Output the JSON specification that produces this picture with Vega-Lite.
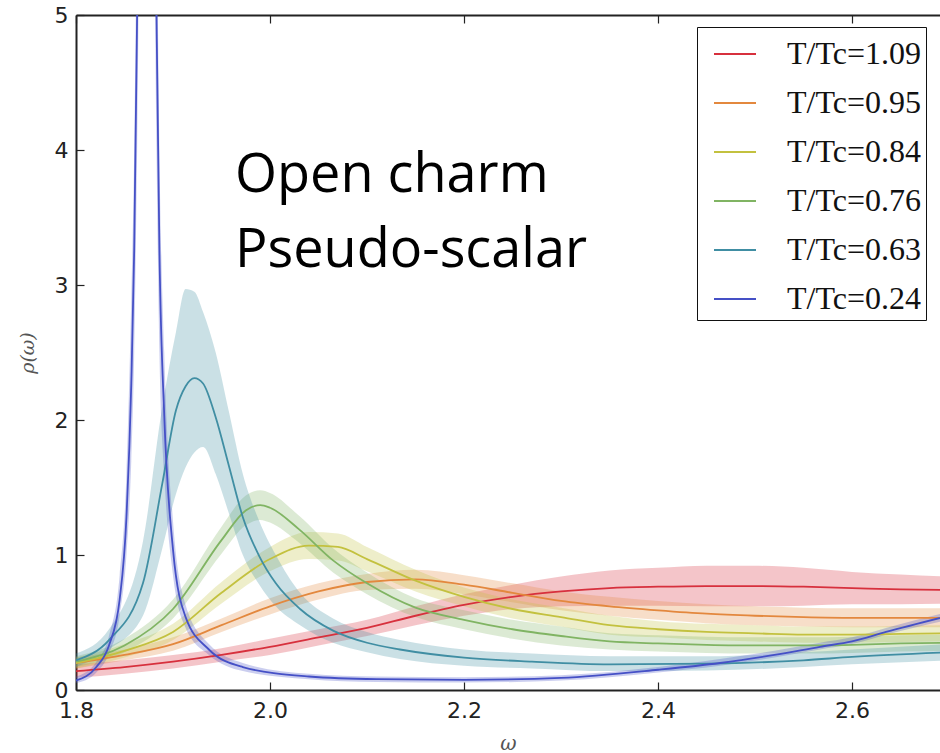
{
  "$schema": "https://vega.github.io/schema/vega-lite/v6.json",
  "width": 864,
  "height": 675,
  "autosize": {"type": "none"},
  "padding": {"left": 76, "top": 15, "right": 0, "bottom": 63},
  "background": "white",
  "config": {"view": {"stroke": null}, "font": "DejaVu Sans"},
  "datasets": {
    "curves": [
      {"s": "T/Tc=1.09", "w": 1.80, "r": 0.14, "lo": 0.09, "hi": 0.19},
      {"s": "T/Tc=1.09", "w": 1.85, "r": 0.17, "lo": 0.12, "hi": 0.22},
      {"s": "T/Tc=1.09", "w": 1.90, "r": 0.21, "lo": 0.16, "hi": 0.26},
      {"s": "T/Tc=1.09", "w": 1.95, "r": 0.26, "lo": 0.21, "hi": 0.31},
      {"s": "T/Tc=1.09", "w": 2.00, "r": 0.32, "lo": 0.26, "hi": 0.38},
      {"s": "T/Tc=1.09", "w": 2.05, "r": 0.39, "lo": 0.33, "hi": 0.45},
      {"s": "T/Tc=1.09", "w": 2.10, "r": 0.46, "lo": 0.40, "hi": 0.52},
      {"s": "T/Tc=1.09", "w": 2.15, "r": 0.55, "lo": 0.48, "hi": 0.62},
      {"s": "T/Tc=1.09", "w": 2.20, "r": 0.63, "lo": 0.55, "hi": 0.71},
      {"s": "T/Tc=1.09", "w": 2.25, "r": 0.69, "lo": 0.60, "hi": 0.78},
      {"s": "T/Tc=1.09", "w": 2.30, "r": 0.73, "lo": 0.62, "hi": 0.84},
      {"s": "T/Tc=1.09", "w": 2.35, "r": 0.755, "lo": 0.625, "hi": 0.885},
      {"s": "T/Tc=1.09", "w": 2.40, "r": 0.765, "lo": 0.625, "hi": 0.905},
      {"s": "T/Tc=1.09", "w": 2.45, "r": 0.77, "lo": 0.62, "hi": 0.92},
      {"s": "T/Tc=1.09", "w": 2.50, "r": 0.77, "lo": 0.62, "hi": 0.92},
      {"s": "T/Tc=1.09", "w": 2.55, "r": 0.765, "lo": 0.625, "hi": 0.905},
      {"s": "T/Tc=1.09", "w": 2.60, "r": 0.755, "lo": 0.635, "hi": 0.875},
      {"s": "T/Tc=1.09", "w": 2.65, "r": 0.745, "lo": 0.635, "hi": 0.855},
      {"s": "T/Tc=1.09", "w": 2.70, "r": 0.74, "lo": 0.64, "hi": 0.84},

      {"s": "T/Tc=0.95", "w": 1.80, "r": 0.20, "lo": 0.16, "hi": 0.24},
      {"s": "T/Tc=0.95", "w": 1.85, "r": 0.26, "lo": 0.22, "hi": 0.30},
      {"s": "T/Tc=0.95", "w": 1.90, "r": 0.34, "lo": 0.29, "hi": 0.39},
      {"s": "T/Tc=0.95", "w": 1.95, "r": 0.48, "lo": 0.43, "hi": 0.53},
      {"s": "T/Tc=0.95", "w": 2.00, "r": 0.62, "lo": 0.56, "hi": 0.68},
      {"s": "T/Tc=0.95", "w": 2.05, "r": 0.73, "lo": 0.67, "hi": 0.79},
      {"s": "T/Tc=0.95", "w": 2.10, "r": 0.80, "lo": 0.74, "hi": 0.86},
      {"s": "T/Tc=0.95", "w": 2.15, "r": 0.82, "lo": 0.75, "hi": 0.89},
      {"s": "T/Tc=0.95", "w": 2.20, "r": 0.78, "lo": 0.71, "hi": 0.85},
      {"s": "T/Tc=0.95", "w": 2.25, "r": 0.72, "lo": 0.65, "hi": 0.79},
      {"s": "T/Tc=0.95", "w": 2.30, "r": 0.66, "lo": 0.59, "hi": 0.73},
      {"s": "T/Tc=0.95", "w": 2.35, "r": 0.62, "lo": 0.55, "hi": 0.69},
      {"s": "T/Tc=0.95", "w": 2.40, "r": 0.59, "lo": 0.52, "hi": 0.66},
      {"s": "T/Tc=0.95", "w": 2.45, "r": 0.565, "lo": 0.495, "hi": 0.635},
      {"s": "T/Tc=0.95", "w": 2.50, "r": 0.55, "lo": 0.48, "hi": 0.62},
      {"s": "T/Tc=0.95", "w": 2.55, "r": 0.54, "lo": 0.47, "hi": 0.61},
      {"s": "T/Tc=0.95", "w": 2.60, "r": 0.535, "lo": 0.465, "hi": 0.605},
      {"s": "T/Tc=0.95", "w": 2.65, "r": 0.535, "lo": 0.465, "hi": 0.605},
      {"s": "T/Tc=0.95", "w": 2.70, "r": 0.535, "lo": 0.465, "hi": 0.605},

      {"s": "T/Tc=0.84", "w": 1.80, "r": 0.20, "lo": 0.16, "hi": 0.24},
      {"s": "T/Tc=0.84", "w": 1.85, "r": 0.29, "lo": 0.24, "hi": 0.34},
      {"s": "T/Tc=0.84", "w": 1.90, "r": 0.43, "lo": 0.37, "hi": 0.49},
      {"s": "T/Tc=0.84", "w": 1.95, "r": 0.72, "lo": 0.64, "hi": 0.80},
      {"s": "T/Tc=0.84", "w": 2.00, "r": 0.97, "lo": 0.88, "hi": 1.06},
      {"s": "T/Tc=0.84", "w": 2.04, "r": 1.07, "lo": 0.97, "hi": 1.17},
      {"s": "T/Tc=0.84", "w": 2.07, "r": 1.06, "lo": 0.96, "hi": 1.16},
      {"s": "T/Tc=0.84", "w": 2.10, "r": 0.97, "lo": 0.88, "hi": 1.06},
      {"s": "T/Tc=0.84", "w": 2.15, "r": 0.81, "lo": 0.73, "hi": 0.89},
      {"s": "T/Tc=0.84", "w": 2.20, "r": 0.69, "lo": 0.62, "hi": 0.76},
      {"s": "T/Tc=0.84", "w": 2.25, "r": 0.60, "lo": 0.53, "hi": 0.67},
      {"s": "T/Tc=0.84", "w": 2.30, "r": 0.54, "lo": 0.47, "hi": 0.61},
      {"s": "T/Tc=0.84", "w": 2.35, "r": 0.48, "lo": 0.41, "hi": 0.55},
      {"s": "T/Tc=0.84", "w": 2.40, "r": 0.45, "lo": 0.39, "hi": 0.51},
      {"s": "T/Tc=0.84", "w": 2.45, "r": 0.43, "lo": 0.37, "hi": 0.49},
      {"s": "T/Tc=0.84", "w": 2.50, "r": 0.42, "lo": 0.36, "hi": 0.48},
      {"s": "T/Tc=0.84", "w": 2.55, "r": 0.41, "lo": 0.35, "hi": 0.47},
      {"s": "T/Tc=0.84", "w": 2.60, "r": 0.41, "lo": 0.35, "hi": 0.47},
      {"s": "T/Tc=0.84", "w": 2.65, "r": 0.415, "lo": 0.355, "hi": 0.475},
      {"s": "T/Tc=0.84", "w": 2.70, "r": 0.42, "lo": 0.36, "hi": 0.48},

      {"s": "T/Tc=0.76", "w": 1.80, "r": 0.21, "lo": 0.17, "hi": 0.25},
      {"s": "T/Tc=0.76", "w": 1.85, "r": 0.33, "lo": 0.28, "hi": 0.38},
      {"s": "T/Tc=0.76", "w": 1.90, "r": 0.60, "lo": 0.53, "hi": 0.67},
      {"s": "T/Tc=0.76", "w": 1.95, "r": 1.11, "lo": 1.01, "hi": 1.21},
      {"s": "T/Tc=0.76", "w": 1.975, "r": 1.33, "lo": 1.22, "hi": 1.44},
      {"s": "T/Tc=0.76", "w": 1.99, "r": 1.37, "lo": 1.26, "hi": 1.48},
      {"s": "T/Tc=0.76", "w": 2.00, "r": 1.35, "lo": 1.24, "hi": 1.46},
      {"s": "T/Tc=0.76", "w": 2.03, "r": 1.19, "lo": 1.09, "hi": 1.29},
      {"s": "T/Tc=0.76", "w": 2.065, "r": 0.96, "lo": 0.87, "hi": 1.05},
      {"s": "T/Tc=0.76", "w": 2.10, "r": 0.79, "lo": 0.71, "hi": 0.87},
      {"s": "T/Tc=0.76", "w": 2.15, "r": 0.61, "lo": 0.54, "hi": 0.68},
      {"s": "T/Tc=0.76", "w": 2.20, "r": 0.52, "lo": 0.45, "hi": 0.59},
      {"s": "T/Tc=0.76", "w": 2.25, "r": 0.45, "lo": 0.38, "hi": 0.52},
      {"s": "T/Tc=0.76", "w": 2.30, "r": 0.40, "lo": 0.33, "hi": 0.47},
      {"s": "T/Tc=0.76", "w": 2.35, "r": 0.36, "lo": 0.30, "hi": 0.42},
      {"s": "T/Tc=0.76", "w": 2.40, "r": 0.345, "lo": 0.285, "hi": 0.405},
      {"s": "T/Tc=0.76", "w": 2.45, "r": 0.335, "lo": 0.275, "hi": 0.395},
      {"s": "T/Tc=0.76", "w": 2.50, "r": 0.33, "lo": 0.27, "hi": 0.39},
      {"s": "T/Tc=0.76", "w": 2.55, "r": 0.33, "lo": 0.27, "hi": 0.39},
      {"s": "T/Tc=0.76", "w": 2.60, "r": 0.335, "lo": 0.275, "hi": 0.395},
      {"s": "T/Tc=0.76", "w": 2.65, "r": 0.345, "lo": 0.285, "hi": 0.405},
      {"s": "T/Tc=0.76", "w": 2.70, "r": 0.35, "lo": 0.29, "hi": 0.41},

      {"s": "T/Tc=0.63", "w": 1.80, "r": 0.22, "lo": 0.17, "hi": 0.27},
      {"s": "T/Tc=0.63", "w": 1.834, "r": 0.37, "lo": 0.30, "hi": 0.45},
      {"s": "T/Tc=0.63", "w": 1.869, "r": 0.79, "lo": 0.55, "hi": 1.10},
      {"s": "T/Tc=0.63", "w": 1.889, "r": 1.53, "lo": 1.05, "hi": 2.10},
      {"s": "T/Tc=0.63", "w": 1.903, "r": 2.07, "lo": 1.45, "hi": 2.65},
      {"s": "T/Tc=0.63", "w": 1.913, "r": 2.25, "lo": 1.65, "hi": 2.97},
      {"s": "T/Tc=0.63", "w": 1.922, "r": 2.31, "lo": 1.76, "hi": 2.95},
      {"s": "T/Tc=0.63", "w": 1.931, "r": 2.27, "lo": 1.80, "hi": 2.80},
      {"s": "T/Tc=0.63", "w": 1.944, "r": 2.02, "lo": 1.60, "hi": 2.50},
      {"s": "T/Tc=0.63", "w": 1.958, "r": 1.65, "lo": 1.30, "hi": 2.05},
      {"s": "T/Tc=0.63", "w": 1.972, "r": 1.28, "lo": 1.00, "hi": 1.60},
      {"s": "T/Tc=0.63", "w": 1.989, "r": 0.99, "lo": 0.78, "hi": 1.25},
      {"s": "T/Tc=0.63", "w": 2.006, "r": 0.79, "lo": 0.62, "hi": 1.00},
      {"s": "T/Tc=0.63", "w": 2.031, "r": 0.60, "lo": 0.48, "hi": 0.72},
      {"s": "T/Tc=0.63", "w": 2.065, "r": 0.44, "lo": 0.35, "hi": 0.53},
      {"s": "T/Tc=0.63", "w": 2.10, "r": 0.35, "lo": 0.28, "hi": 0.43},
      {"s": "T/Tc=0.63", "w": 2.134, "r": 0.30, "lo": 0.23, "hi": 0.37},
      {"s": "T/Tc=0.63", "w": 2.20, "r": 0.24, "lo": 0.18, "hi": 0.30},
      {"s": "T/Tc=0.63", "w": 2.27, "r": 0.21, "lo": 0.16, "hi": 0.27},
      {"s": "T/Tc=0.63", "w": 2.35, "r": 0.19, "lo": 0.14, "hi": 0.25},
      {"s": "T/Tc=0.63", "w": 2.45, "r": 0.195, "lo": 0.145, "hi": 0.25},
      {"s": "T/Tc=0.63", "w": 2.55, "r": 0.22, "lo": 0.17, "hi": 0.28},
      {"s": "T/Tc=0.63", "w": 2.60, "r": 0.245, "lo": 0.19, "hi": 0.30},
      {"s": "T/Tc=0.63", "w": 2.70, "r": 0.28, "lo": 0.22, "hi": 0.34},

      {"s": "T/Tc=0.24", "w": 1.80, "r": 0.07, "lo": 0.05, "hi": 0.10},
      {"s": "T/Tc=0.24", "w": 1.821, "r": 0.17, "lo": 0.13, "hi": 0.21},
      {"s": "T/Tc=0.24", "w": 1.834, "r": 0.33, "lo": 0.27, "hi": 0.40},
      {"s": "T/Tc=0.24", "w": 1.845, "r": 0.67, "lo": 0.55, "hi": 0.85},
      {"s": "T/Tc=0.24", "w": 1.852, "r": 1.28, "lo": 1.00, "hi": 1.60},
      {"s": "T/Tc=0.24", "w": 1.857, "r": 2.27, "lo": 1.70, "hi": 2.90},
      {"s": "T/Tc=0.24", "w": 1.860, "r": 3.26, "lo": 2.50, "hi": 4.00},
      {"s": "T/Tc=0.24", "w": 1.863, "r": 5.0, "lo": 4.0, "hi": 6.0},
      {"s": "T/Tc=0.24", "w": 1.873, "r": 13.0, "lo": 12.0, "hi": 14.0},
      {"s": "T/Tc=0.24", "w": 1.883, "r": 5.0, "lo": 4.0, "hi": 6.0},
      {"s": "T/Tc=0.24", "w": 1.886, "r": 3.26, "lo": 2.50, "hi": 4.00},
      {"s": "T/Tc=0.24", "w": 1.891, "r": 2.03, "lo": 1.60, "hi": 2.50},
      {"s": "T/Tc=0.24", "w": 1.900, "r": 1.04, "lo": 0.85, "hi": 1.25},
      {"s": "T/Tc=0.24", "w": 1.913, "r": 0.54, "lo": 0.46, "hi": 0.63},
      {"s": "T/Tc=0.24", "w": 1.937, "r": 0.30, "lo": 0.26, "hi": 0.34},
      {"s": "T/Tc=0.24", "w": 1.972, "r": 0.17, "lo": 0.14, "hi": 0.20},
      {"s": "T/Tc=0.24", "w": 2.04, "r": 0.10, "lo": 0.08, "hi": 0.12},
      {"s": "T/Tc=0.24", "w": 2.11, "r": 0.08, "lo": 0.06, "hi": 0.10},
      {"s": "T/Tc=0.24", "w": 2.20, "r": 0.075, "lo": 0.055, "hi": 0.095},
      {"s": "T/Tc=0.24", "w": 2.30, "r": 0.09, "lo": 0.07, "hi": 0.11},
      {"s": "T/Tc=0.24", "w": 2.40, "r": 0.15, "lo": 0.13, "hi": 0.17},
      {"s": "T/Tc=0.24", "w": 2.464, "r": 0.20, "lo": 0.18, "hi": 0.23},
      {"s": "T/Tc=0.24", "w": 2.52, "r": 0.26, "lo": 0.24, "hi": 0.29},
      {"s": "T/Tc=0.24", "w": 2.567, "r": 0.32, "lo": 0.30, "hi": 0.35},
      {"s": "T/Tc=0.24", "w": 2.60, "r": 0.36, "lo": 0.34, "hi": 0.39},
      {"s": "T/Tc=0.24", "w": 2.635, "r": 0.43, "lo": 0.41, "hi": 0.46},
      {"s": "T/Tc=0.24", "w": 2.70, "r": 0.55, "lo": 0.52, "hi": 0.58}
    ],
    "notes": [
      {"w": 1.964, "r": 3.69, "t": "Open charm"},
      {"w": 1.964, "r": 3.13, "t": "Pseudo-scalar"}
    ]
  },
  "layer": [
    {
      "data": {"name": "curves"},
      "mark": {"type": "area", "interpolate": "monotone", "clip": true, "opacity": 0.28},
      "encoding": {
        "x": {"field": "w", "type": "quantitative",
          "scale": {"domain": [1.8, 2.6907], "nice": false, "zero": false},
          "axis": {"orient": "bottom", "values": [1.8, 2.0, 2.2, 2.4, 2.6], "format": ".1f",
            "grid": false, "tickSize": -8, "tickColor": "#222", "tickWidth": 1.2,
            "domainColor": "#222", "domainWidth": 2, "labelPadding": 18,
            "labelFont": "DejaVu Sans", "labelFontSize": 22, "labelColor": "#222",
            "labelFlush": false, "labelOverlap": false,
            "title": "ω", "titleFont": "DejaVu Serif", "titleFontStyle": "italic",
            "titleFontWeight": "normal", "titleFontSize": 20, "titleColor": "#555", "titlePadding": 12}},
        "y": {"field": "lo", "type": "quantitative",
          "scale": {"domain": [0, 5], "nice": false},
          "axis": {"values": [0, 1, 2, 3, 4, 5], "format": "d", "grid": false,
            "tickSize": -8, "tickColor": "#222", "tickWidth": 1.2,
            "domainColor": "#222", "domainWidth": 2, "labelPadding": 16,
            "labelFont": "DejaVu Sans", "labelFontSize": 22, "labelColor": "#222",
            "labelFlush": false, "labelOverlap": false,
            "title": "ρ(ω)", "titleFont": "DejaVu Serif", "titleFontStyle": "italic",
            "titleFontWeight": "normal", "titleFontSize": 19, "titleColor": "#555", "titlePadding": 17}},
        "y2": {"field": "hi"},
        "color": {"field": "s", "type": "nominal",
          "scale": {"domain": ["T/Tc=1.09", "T/Tc=0.95", "T/Tc=0.84", "T/Tc=0.76", "T/Tc=0.63", "T/Tc=0.24"],
            "range": ["#d7303d", "#e3883e", "#c3c13f", "#80b463", "#408ea3", "#4550c6"]},
          "legend": {"orient": "none", "legendX": 621, "legendY": 12, "title": null,
            "direction": "vertical",
            "strokeColor": "#111", "fillColor": "white", "padding": 5,
            "symbolType": "stroke", "symbolSize": 1764, "symbolStrokeWidth": 2, "symbolOpacity": 1,
            "symbolOffset": 11, "labelOffset": 30, "rowPadding": 11,
            "labelFont": "Liberation Serif", "labelFontSize": 32, "labelColor": "#111"}}
      }
    },
    {
      "data": {"name": "curves"},
      "mark": {"type": "line", "interpolate": "monotone", "clip": true, "strokeWidth": 1.8},
      "encoding": {
        "x": {"field": "w", "type": "quantitative", "axis": null},
        "y": {"field": "r", "type": "quantitative", "title": "ρ(ω)"},
        "color": {"field": "s", "type": "nominal",
          "legend": {"orient": "none", "legendX": 621, "legendY": 12, "title": null,
            "direction": "vertical",
            "strokeColor": "#111", "fillColor": "white", "padding": 5,
            "symbolType": "stroke", "symbolSize": 1764, "symbolStrokeWidth": 2, "symbolOpacity": 1,
            "symbolOffset": 11, "labelOffset": 30, "rowPadding": 11,
            "labelFont": "Liberation Serif", "labelFontSize": 32, "labelColor": "#111"}}
      }
    },
    {
      "data": {"name": "notes"},
      "mark": {"type": "text", "align": "left", "baseline": "alphabetic", "font": "Open Sans",
        "fontSize": 54, "color": "black"},
      "encoding": {
        "x": {"field": "w", "type": "quantitative",
          "axis": {"orient": "top", "values": [1.8, 2.0, 2.2, 2.4, 2.6], "labels": false,
            "grid": false, "tickSize": -8, "tickColor": "#222", "tickWidth": 1.2,
            "domainColor": "#222", "domainWidth": 2, "title": null}},
        "y": {"field": "r", "type": "quantitative", "title": "ρ(ω)"},
        "text": {"field": "t"}
      }
    }
  ],
  "resolve": {"axis": {"x": "independent"}}
}
